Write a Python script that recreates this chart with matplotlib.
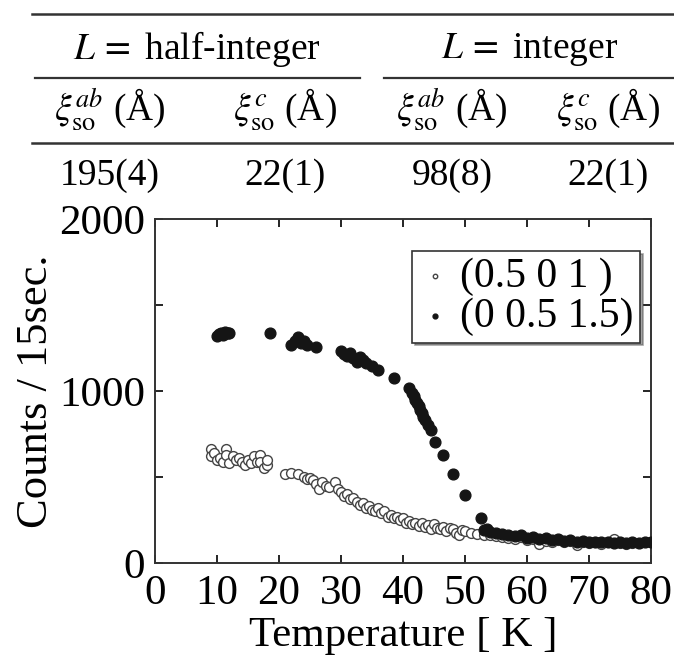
import matplotlib
matplotlib.use('Agg')
import matplotlib.pyplot as plt
from matplotlib.lines import Line2D
from matplotlib.ticker import MultipleLocator

plt.rcParams['font.family'] = ['Liberation Serif', 'DejaVu Serif']
plt.rcParams['mathtext.fontset'] = 'stix'

# table
group_labels = [r'$L\,=$ half-integer', r'$L\,=$ integer']
col_labels = [r'$\xi_{\rm so}^{ab}$ (Å)', r'$\xi_{\rm so}^{c}$ (Å)',
              r'$\xi_{\rm so}^{ab}$ (Å)', r'$\xi_{\rm so}^{c}$ (Å)']
col_values = ['195(4)', '22(1)', '98(8)', '22(1)']

# (0.5 0 1) open circles
open_T = [9, 9, 9.5, 10, 10.5, 11, 11.5, 11.5, 12, 12.5, 13, 13.5, 14, 14.5, 15,
          15.5, 16, 16.5, 17, 17, 17.5, 18, 18,
          21, 22, 23, 24, 24.5, 25, 25.5, 26, 26.5, 27, 27.5, 28, 29, 29.5, 30,
          30.5, 31, 31.5, 32, 32.5, 33, 33.5, 34, 34.5, 35, 35.5, 36, 36.5, 37,
          37.5, 38, 38.5, 39, 39.5, 40, 40.5, 41, 41.5, 42, 42.5, 43, 43.5, 44,
          44.5, 45, 45.5, 46, 46.5, 47, 47.5, 48, 48.5, 49, 49.5, 50, 51, 52, 53,
          54, 55, 56, 57, 58, 59, 60, 61, 62, 63, 64, 65, 66, 67, 68, 69, 70, 71,
          72, 73, 74, 75, 76, 77]
open_counts = [660, 620, 640, 600, 610, 590, 665, 630, 580, 620, 600, 610, 590, 570, 600,
               580, 620, 590, 630, 585, 555, 570, 600,
               520, 525, 515, 500, 490, 495, 480, 460, 430, 470, 445, 440, 470, 430, 410,
               390, 400, 370, 380, 355, 340, 350, 320, 330, 310, 300, 320, 290, 300,
               270, 280, 260, 270, 250, 260, 235, 245, 225, 230, 215, 235, 210, 220,
               200, 225, 205, 195, 210, 185, 205, 195, 175, 160, 190, 185, 175, 170, 165,
               160, 155, 150, 145, 140, 150, 135, 140, 110, 130, 125, 135, 120, 130, 105, 120, 115, 125,
               110, 120, 140, 115, 110, 115]

# (0 0.5 1.5) filled circles
filled_T = [10, 10.3, 10.7, 11, 11.3, 11.7, 12, 18.5, 22, 22.5, 23, 23.5, 24, 24.5, 26,
            30, 30.5, 31, 31.5, 32, 32.5, 33, 33.5, 34, 35, 36, 38.5, 41, 41.5, 41.7,
            42, 42.2, 42.5, 42.8, 43, 43.3, 43.6, 44, 44.5, 45.2, 46.5, 48, 50, 52.5,
            53, 53.5, 54, 55, 56, 57, 58, 59, 60, 61, 62, 63, 64, 65, 66, 67, 68, 69,
            70, 71, 72, 73, 74, 75, 76, 77, 78, 79, 80]
filled_counts = [1320, 1330, 1340, 1325, 1345, 1335, 1340, 1340, 1270, 1290, 1315, 1280, 1290, 1265, 1255,
                 1230, 1215, 1205, 1220, 1190, 1170, 1200, 1180, 1160, 1145, 1125, 1075, 1015, 990, 970,
                 950, 930, 910, 890, 870, 850, 830, 805, 775, 705, 630, 520, 395, 260,
                 190, 200, 180, 175, 170, 165, 155, 160, 145, 150, 140, 145, 135, 140, 130, 135, 125, 130,
                 125, 120, 125, 120, 115, 120, 115, 120, 115, 120, 125]

fig = plt.figure(figsize=(6.74, 6.65), dpi=100)
W, H = 674.0, 665.0

def hline(x0, x1, y, lw=1.6):
    fig.add_artist(Line2D([x0 / W, x1 / W], [1 - y / H, 1 - y / H], color='#333333', lw=lw))

hline(32, 674, 14, 1.8)
hline(35, 360, 78)
hline(384, 674, 78)
hline(32, 674, 143, 1.8)

fs_tab = 27
fig.text(197 / W, 1 - 49 / H, group_labels[0], ha='center', va='center', fontsize=fs_tab)
fig.text(530 / W, 1 - 49 / H, group_labels[1], ha='center', va='center', fontsize=fs_tab)
col_x = [110, 285, 452, 608]
for cx, lab, val in zip(col_x, col_labels, col_values):
    fig.text(cx / W, 1 - 110 / H, lab, ha='center', va='center', fontsize=fs_tab)
    fig.text(cx / W, 1 - 176 / H, val, ha='center', va='center', fontsize=fs_tab)

ax = fig.add_axes([155 / W, 1 - 563 / H, (651 - 155) / W, (563 - 219) / H])
ax.scatter(open_T, open_counts, s=50, facecolors='white', edgecolors='#444444',
           linewidths=1.0, label='(0.5 0 1 )', zorder=2)
ax.scatter(filled_T, filled_counts, s=60, color='#151515', label='(0 0.5 1.5)', zorder=3)

ax.set_xlim(0, 80)
ax.set_ylim(0, 2000)
ax.xaxis.set_major_locator(MultipleLocator(10))
ax.yaxis.set_major_locator(MultipleLocator(1000))
ax.yaxis.set_minor_locator(MultipleLocator(500))
ax.tick_params(which='both', direction='in', top=True, right=True, labelsize=31, width=1.2)
ax.tick_params(which='major', length=6)
ax.tick_params(which='minor', length=6)
ax.tick_params(axis='x', which='major', pad=8)
ax.tick_params(axis='y', which='major', pad=7)
for sp in ax.spines.values():
    sp.set_linewidth(1.4)
    sp.set_color('#333333')

ax.set_xlabel('Temperature [ K ]', fontsize=31, labelpad=3)
ax.set_ylabel('Counts / 15sec.', fontsize=32, labelpad=2)

leg = ax.legend(loc='upper right', bbox_to_anchor=(0.978, 0.907), fontsize=30,
                frameon=True, fancybox=False, shadow=True, markerscale=0.45,
                handletextpad=0.2, handlelength=0.8, borderpad=0.15, labelspacing=0.05,
                borderaxespad=0)
leg.get_frame().set_edgecolor('#333333')
leg.get_frame().set_linewidth(1.2)

fig.savefig('out.png', dpi=100)
